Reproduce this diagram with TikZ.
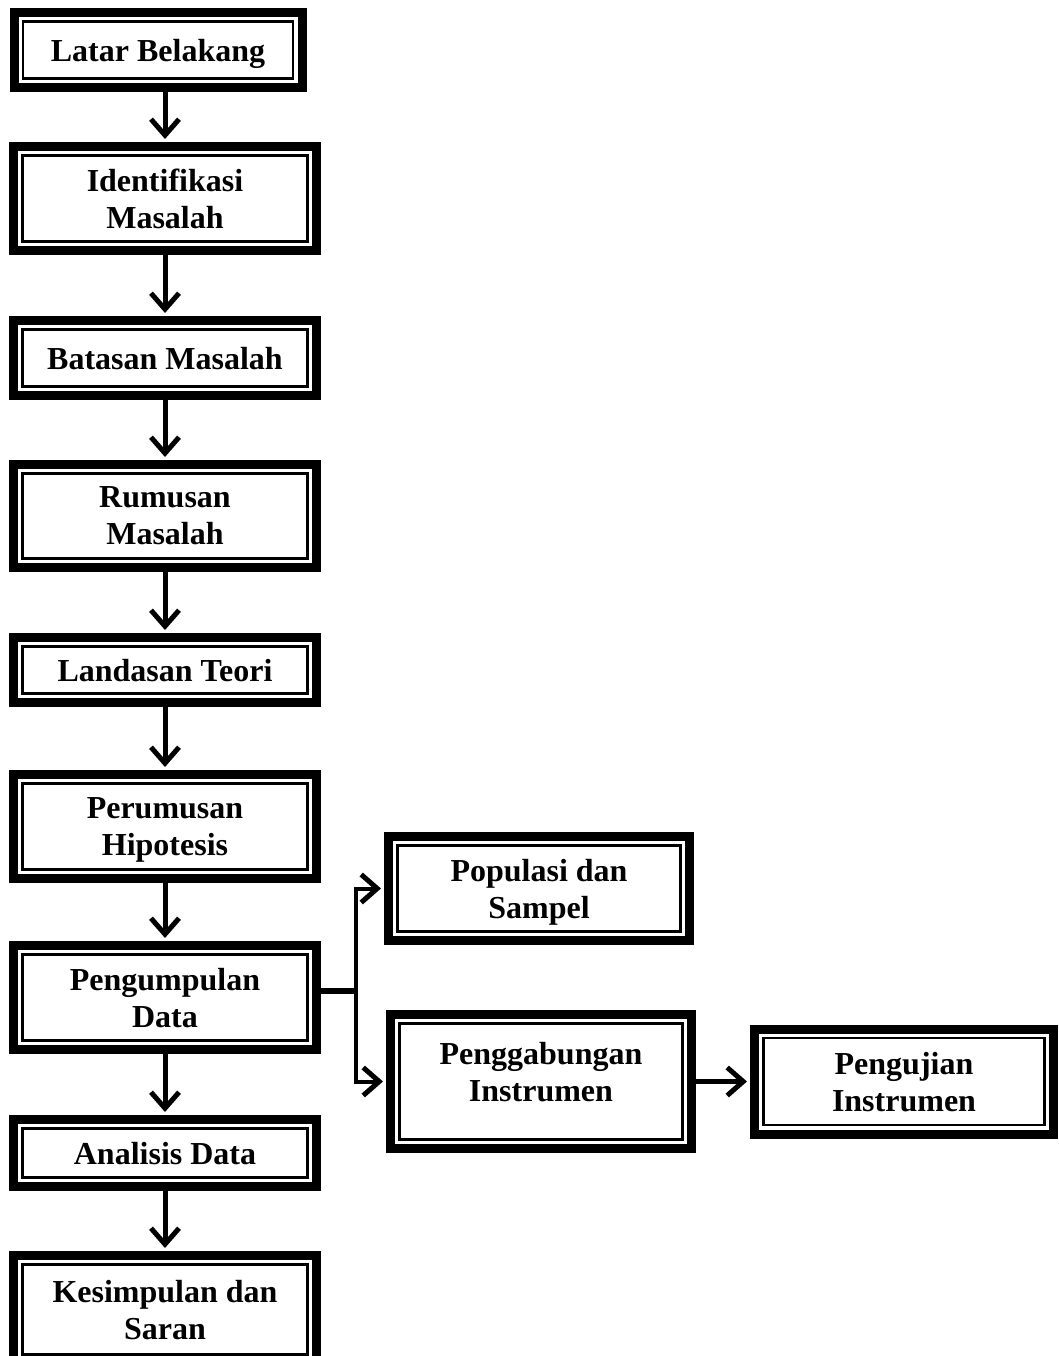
\documentclass[tikz,border=0pt]{standalone}
\usepackage{fontspec}
\setmainfont{Liberation Serif}
\usetikzlibrary{positioning,arrows.meta}

\begin{document}
\begin{tikzpicture}[x=1pt, y=1pt, node distance = 60pt,
    panah/.style={line width=5pt, -{Straight Barb[length=16pt,width=28pt,line width=5pt]}, shorten >=3pt}]
    \tikzset{stepbox/.style={draw, line width=9pt, fill=white, minimum width=303pt, align=center,
        text depth=-6pt, font=\bfseries\fontsize{32}{37}\selectfont,
        path picture={\draw[line width=2.5pt]
            ([shift={(9pt,9pt)}]path picture bounding box.south west) rectangle
            ([shift={(-9pt,-9pt)}]path picture bounding box.north east);}}}
    \useasboundingbox (0,0) rectangle (1059,-1356);
    \node[stepbox, minimum width=288pt, minimum height=75pt] (latar) at (158,-50) {Latar Belakang};
    \node[stepbox, minimum height=104pt] (identifikasi) [below=50pt of latar, xshift=7pt] {Identifikasi\\Masalah};
    \node[stepbox, minimum height=75pt]  (batasan)     [below=61pt of identifikasi] {Batasan Masalah};
    \node[stepbox, minimum height=103pt] (rumusan)     [below=of batasan]          {Rumusan\\Masalah};
    \node[stepbox, minimum height=65pt]  (landasan)    [below=61pt of rumusan]      {Landasan Teori};
    \node[stepbox, minimum height=104pt] (hipotesis)   [below=63pt of landasan]     {Perumusan\\Hipotesis};
    \node[stepbox, minimum height=104pt] (pengumpulan) [below=58pt of hipotesis]    {Pengumpulan\\Data};
    \node[stepbox, minimum height=67pt]  (analisis)    [below=61pt of pengumpulan]  {Analisis Data};
    \node[stepbox, minimum height=108pt] (kesimpulan)  [below=of analisis]          {Kesimpulan dan\\Saran};
    \node[stepbox, minimum width=301pt, minimum height=104pt] (populasi)
        [right=63pt of pengumpulan, yshift=109pt] {Populasi dan\\Sampel};
    \node[stepbox, minimum width=301pt, minimum height=134pt, text depth=19pt] (gabung)
        [right=65pt of pengumpulan, yshift=-84pt] {Penggabungan\\Instrumen};
    \node[stepbox, minimum width=299pt, minimum height=105pt] (pengujian)
        [right=54pt of gabung] {Pengujian\\Instrumen};
    % alur utama
    \foreach \a/\b in {latar/identifikasi, identifikasi/batasan, batasan/rumusan,
        rumusan/landasan, landasan/hipotesis, hipotesis/pengumpulan,
        pengumpulan/analisis, analisis/kesimpulan}
        \draw[panah] (\b.north |- \a.south) -- (\b.north);
    % cabang
    \coordinate (cabang) at ([xshift=35pt, yshift=7pt]pengumpulan.east);
    \draw[line width=6pt] ([yshift=7pt]pengumpulan.east) -- (cabang);
    \draw[panah, line width=4pt] (cabang) |- (populasi.west);
    \draw[panah, line width=4pt] (cabang) |- (gabung.west);
    \draw[panah] (gabung.east) -- (pengujian.west |- gabung.east);
\end{tikzpicture}
\end{document}
